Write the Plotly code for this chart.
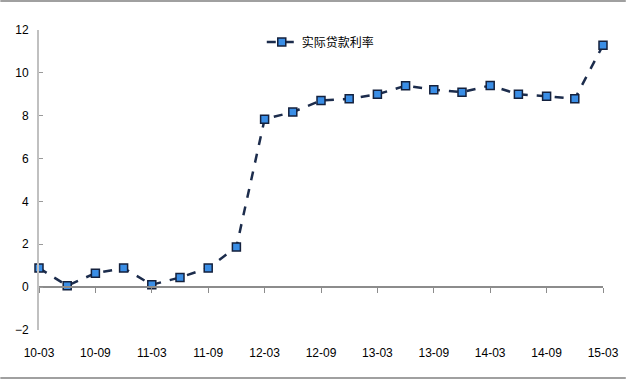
import plotly.graph_objects as go

quarters = ["10-03","10-06","10-09","10-12","11-03","11-06","11-09","11-12",
            "12-03","12-06","12-09","12-12","13-03","13-06","13-09","13-12",
            "14-03","14-06","14-09","14-12","15-03"]
real_rate = [0.89,0.07,0.65,0.89,0.11,0.45,0.89,1.87,7.84,8.17,8.71,8.79,
             9.0,9.4,9.21,9.1,9.41,9.0,8.91,8.79,11.29]
series_name = "实际贷款利率"
tick_idx = list(range(0, len(quarters), 2))
tick_labels = [quarters[i] for i in tick_idx]
y_ticks = [-2, 0, 2, 4, 6, 8, 10, 12]

xs = list(range(len(quarters)))
fig = go.Figure()
fig.add_trace(go.Scatter(
    x=xs, y=real_rate, name=series_name, mode="lines+markers",
    line=dict(color="#1c2c4c", width=2.5, dash="dash"),
    marker=dict(symbol="square", size=8, color="#3a8ee6",
                line=dict(color="#14213d", width=1.5)),
    cliponaxis=False,
))

font = dict(family="Liberation Sans, Arial", size=12, color="#000")
xr = [0, len(quarters) - 1]
fig.update_layout(
    width=631, height=380,
    margin=dict(l=39, r=23, t=30, b=50),
    paper_bgcolor="white", plot_bgcolor="white",
    font=font,
    showlegend=True,
    legend=dict(x=0.395, y=0.96, xanchor="left", yanchor="middle",
                bgcolor="rgba(0,0,0,0)", font=dict(family="Noto Sans CJK SC", size=12)),
    xaxis=dict(range=xr, tickmode="array", tickvals=tick_idx, ticktext=tick_labels,
               showgrid=False, showline=False, zeroline=False, ticks="",
               ticklabelstandoff=14, tickfont=font),
    xaxis2=dict(range=xr, overlaying="x", anchor="free", position=2/14,
                tickmode="array", tickvals=tick_idx, showticklabels=False,
                showgrid=False, zeroline=False, showline=True,
                linecolor="#8c8c8c", linewidth=2,
                ticks="outside", ticklen=5, tickcolor="#8c8c8c", tickwidth=1),
    yaxis=dict(range=[-2, 12], tickmode="array", tickvals=y_ticks,
               showgrid=False, zeroline=False, showline=True,
               linecolor="#c0c0c0", linewidth=2,
               ticks="inside", ticklen=4, tickcolor="#9a9a9a",
               ticklabelstandoff=6, tickfont=font),
)
# invisible trace to activate xaxis2
fig.add_trace(go.Scatter(x=[], y=[], xaxis="x2", showlegend=False))

# outer frame lines (top and bottom of the image)
for yp in [1 + 29/300, -(48/300)]:
    fig.add_shape(type="line", xref="paper", yref="paper",
                  x0=-39/569, x1=1 + 23/569, y0=yp, y1=yp,
                  line=dict(color="#a0a0a0", width=2))

fig.write_html("out.html", config={"displayModeBar": False},
               post_script="document.body.style.margin='0';document.body.style.overflow='hidden';")
